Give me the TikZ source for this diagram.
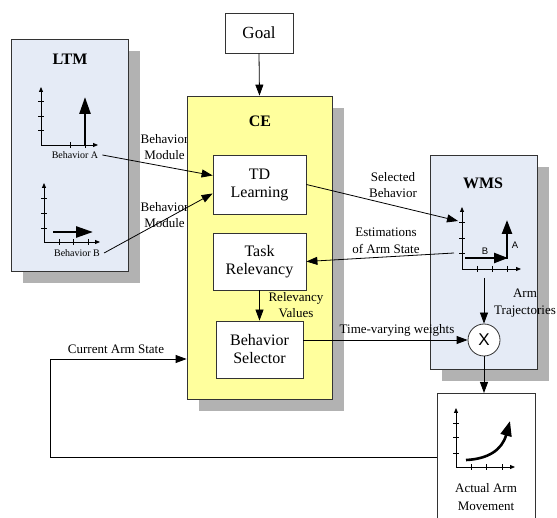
\documentclass[tikz,border=0pt]{standalone}
\usepackage{fontspec}
\setmainfont{Liberation Serif}
\newfontfamily\serf{Liberation Serif}
\newfontfamily\sansf{Liberation Sans}
\usetikzlibrary{arrows.meta,calc}
\definecolor{shade}{HTML}{B2B2B2}
\definecolor{ltmblue}{HTML}{E5EBF6}
\definecolor{ceyellow}{HTML}{FFFF9D}
\definecolor{edge}{HTML}{333333}
\begin{document}
\begin{tikzpicture}[x=1pt,y=-1pt,
  conn/.style={line width=0.8pt,-{Triangle[length=11pt,width=8pt]}},
  axisline/.style={line width=0.8pt,-{Triangle[length=5pt,width=4pt]}},
  tick/.style={line width=0.8pt},
  bigarrow/.style={line width=2.6pt,-{Triangle[length=17pt,width=11pt]}},
  midarrow/.style={line width=2.4pt,-{Triangle[length=14pt,width=10pt]}},
  shadowbox/.style={fill=shade,draw=none},
  panelbox/.style={draw=edge,line width=0.8pt,inner sep=0pt},
  whitebox/.style={draw=edge,line width=0.8pt,fill=white,align=center,inner sep=0pt,font=\serf\fontsize{16}{18}\selectfont},
  titletext/.style={font=\serf\bfseries\fontsize{16}{18}\selectfont},
  lbl/.style={align=center,inner sep=0pt,font=\serf\fontsize{13}{16.5}\selectfont},
  smalllbl/.style={inner sep=0pt,font=\serf\fontsize{10}{12}\selectfont},
  sanslbl/.style={inner sep=0pt,font=\sansf\fontsize{9.5}{11}\selectfont}]
\useasboundingbox (0,0) rectangle (557,518);
\clip (0,0) rectangle (557,518);
\fill[white] (0,0) rectangle (557,518);

% shadows
\fill[shadowbox] (23,51) rectangle (140,283);
\fill[shadowbox] (199,108) rectangle (344,411);
\fill[shadowbox] (442,167) rectangle (549,381);

% LTM panel
\node[panelbox,fill=ltmblue,minimum width=117pt,minimum height=232pt] (ltm) at (69.5,155) {};
\node[titletext] (ltmt) at (70,59) {LTM};

% graph A
\draw[axisline] (41,145) -- (41,87);
\draw[axisline] (41,145) -- (98,145);
\foreach \yy in {101,116,130} \draw[tick] (38,\yy) -- (44,\yy);
\foreach \xx in {70,85} \draw[tick] (\xx,142) -- (\xx,148);
\draw[bigarrow] (85,145) -- (85,97);
\node[smalllbl] (bA) at (75,155) {Behavior A};

% graph B
\draw[axisline] (44,242) -- (44,183);
\draw[axisline] (44,242) -- (100,242);
\foreach \yy in {198,213,228} \draw[tick] (41,\yy) -- (47,\yy);
\foreach \xx in {59,73,88} \draw[tick] (\xx,239) -- (\xx,245);
\draw[bigarrow] (53,232) -- (93,232);
\node[smalllbl] (bB) at (77,253) {Behavior B};

% labels partly hidden behind CE
\node[lbl] (bm1) at (164.5,147) {Behavior\\Module};
\node[lbl] (bm2) at (164.5,215) {Behavior\\Module};

% CE panel
\node[panelbox,fill=ceyellow,minimum width=145pt,minimum height=303pt] (ce) at (259.5,247.5) {};
\node[titletext] (cet) at (260,121) {CE};
\node[whitebox,minimum width=93pt,minimum height=59pt] (td) at (259.5,184.5) {TD\\Learning};
\node[whitebox,minimum width=93pt,minimum height=57pt] (task) at (259.5,261.5) {Task\\Relevancy};
\node[whitebox,minimum width=87pt,minimum height=57pt] (bs) at (259.5,349.5) {Behavior\\Selector};
\node[lbl] (rv) at (296,305) {Relevancy\\Values};

% Goal
\node[whitebox,minimum width=68pt,minimum height=40pt,font=\serf\fontsize{17}{19}\selectfont] (goal) at (259,33) {Goal};

% WMS panel
\node[panelbox,fill=ltmblue,minimum width=107pt,minimum height=214pt] (wms) at (483.5,262) {};
\node[titletext] (wmst) at (483,183) {WMS};
\draw[axisline] (462,269) -- (462,207);
\draw[axisline] (462,269) -- (521,269);
\foreach \yy in {222,238,253} \draw[tick] (459,\yy) -- (465,\yy);
\foreach \xx in {477,492,507} \draw[tick] (\xx,266) -- (\xx,272);
\draw[midarrow] (465,258) -- (508,258);
\draw[midarrow] (507,259.2) -- (507,220);
\node[sanslbl] (la) at (515,245) {A};
\node[sanslbl] (lb) at (485,251) {B};
\node[lbl] (traj) at (525,303) {Arm\\Trajectories};
\coordinate (selend) at (458,221);
\coordinate (eststart) at (454,253);
\coordinate (trajstart) at (484,278);
\node[circle,draw=edge,line width=0.8pt,fill=white,minimum size=32pt,inner sep=0pt,font=\sansf\fontsize{17}{17}\selectfont] (mult) at (484,340) {X};

% Actual arm movement
\node[panelbox,fill=white,minimum width=98pt,minimum height=140pt,anchor=north] (aam) at (486,393) {};
\draw[axisline] (456,467) -- (456,408);
\draw[axisline] (456,467) -- (515,467);
\foreach \yy in {423,437,453} \draw[tick] (453,\yy) -- (459,\yy);
\foreach \xx in {471,486,502} \draw[tick] (\xx,464) -- (\xx,470);
\draw[line width=2.6pt,-{Triangle[length=15pt,width=11pt]}] (466,460) .. controls (488,459) and (502,450) .. (510,421);
\node[lbl,font=\serf\fontsize{13}{18}\selectfont] (aamt) at (486,497) {Actual Arm\\Movement};

% connectors
\draw[conn] (goal.south) -- (ce.north);
\draw[conn] (bA.east) ++(4,0) coordinate (bAe) (bAe) -- ([yshift=9pt]td.west);
\draw[conn] (bB.east) ++(4,0) coordinate (bBe) (bBe) -- ([yshift=-9pt]td.west);
\draw[conn] (td.east) -- (selend);
\node[lbl] (selb) at (393,185) {Selected\\Behavior};
\draw[conn] (eststart) -- (task.east);
\node[lbl] (est) at (386,241) {Estimations\\of Arm State};
\draw[conn] (task.south) -- (bs.north);
\draw[conn] (bs.east |- mult.west) -- (mult.west);
\node[lbl] (tvw) at (397,330) {Time-varying weights};
\draw[conn] (trajstart) -- (mult.north);
\draw[conn] (mult.south) -- (mult.south |- aam.north);
\coordinate (loopbl) at (50,457);
\coordinate (looptl) at (50,359);
\draw[conn] (aam.west |- loopbl) -- (loopbl) -- (looptl) -- (ce.west |- looptl);
\node[lbl] (cas) at (116,349) {Current Arm State};
\end{tikzpicture}
\end{document}
